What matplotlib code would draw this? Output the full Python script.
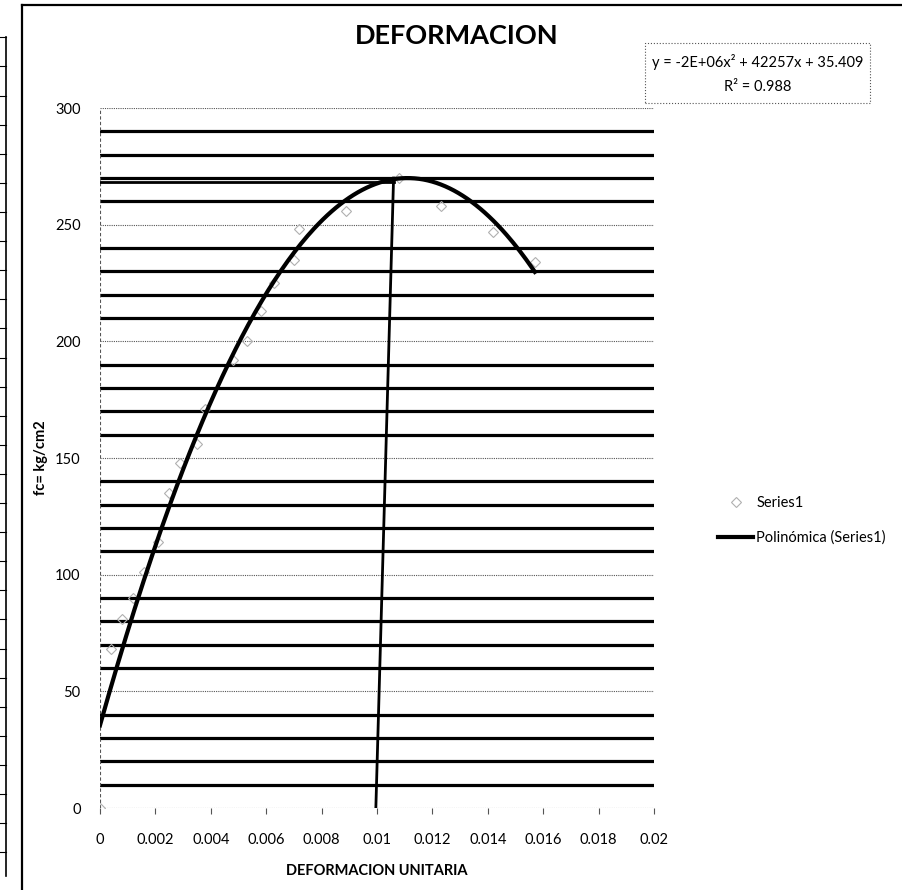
import numpy as np
import matplotlib
matplotlib.use("Agg")
import matplotlib.pyplot as plt
from matplotlib.lines import Line2D
from matplotlib.patches import Rectangle

plt.rcParams['font.family'] = ['Lato', 'DejaVu Sans']

# ensayo: deformacion unitaria vs esfuerzo
deformacion = [0, 0.0004, 0.0008, 0.0012, 0.0016, 0.0021, 0.0025, 0.0029, 0.0035,
               0.0038, 0.0048, 0.0053, 0.0058, 0.0063, 0.0070, 0.0072, 0.0089,
               0.0108, 0.0123, 0.0142, 0.0157]
esfuerzo = [0, 68, 81, 90, 101, 114, 135, 148, 156, 171, 192, 200, 213, 225,
            235, 248, 256, 270, 258, 247, 234]

# linea de tendencia polinomica (grado 2)
coef = [-1.903e6, 42257, 35.409]
ecuacion = "y = -2E+06x² + 42257x + 35.409"
r2_txt = "R² = 0.988"

# marca del punto maximo
pico_x = [0.00996, 0.0106]
pico_y = 268.5

x_ticks = [0, 0.002, 0.004, 0.006, 0.008, 0.01, 0.012, 0.014, 0.016, 0.018, 0.02]
x_labels = ["0", "0.002", "0.004", "0.006", "0.008", "0.01", "0.012", "0.014", "0.016", "0.018", "0.02"]
y_ticks = [0, 50, 100, 150, 200, 250, 300]
y_rayas = [v for v in range(10, 300, 10) if v % 50 != 0]

fig = plt.figure(figsize=(9.03, 8.90), dpi=100)
ax = fig.add_axes([0.1107, 0.0921, 0.6135, 0.7865])

# renglones gruesos y grilla punteada
for v in y_rayas:
    ax.axhline(v, color='black', lw=2.3, zorder=1)
for v in y_ticks:
    ax.axhline(v, color='#555555', lw=0.8, ls=(0, (1, 1)), zorder=1)
ax.axvline(0, color='#555555', lw=0.8, ls=(0, (3, 2)), zorder=1)

ax.plot(deformacion, esfuerzo, ls='none', marker='D', ms=5, mfc='none',
        mec='#b0b0b0', mew=0.8, zorder=3)

xs = np.linspace(0, max(deformacion), 200)
ax.plot(xs, np.polyval(coef, xs), color='black', lw=3, zorder=4)

ax.plot(pico_x, [0, 270], color='black', lw=2, zorder=4)
ax.plot([0, pico_x[1]], [pico_y, pico_y], color='black', lw=2, zorder=4)

ax.set_xlim(0, 0.02)
ax.set_ylim(0, 300)
ax.set_xticks(x_ticks)
ax.set_xticklabels(x_labels)
ax.set_yticks(y_ticks)
for s in ax.spines.values():
    s.set_visible(False)
ax.tick_params(axis='x', length=4, width=0.8, color='#555555', labelsize=10.5, pad=14)
ax.tick_params(axis='y', length=0, labelsize=10.5, pad=14)

ax.set_xlabel("DEFORMACION UNITARIA", fontsize=10.5, fontweight='bold', labelpad=12)
ax.set_ylabel("fc= kg/cm2", fontsize=10.5, fontweight='bold')
ax.yaxis.set_label_coords(-0.094, 0.5)
fig.text(0.506, 0.960, "DEFORMACION", ha='center', va='center', fontsize=19.5, fontweight='bold')

# cuadro de la ecuacion
fig.add_artist(Rectangle((0.714, 0.884), 0.250, 0.068, transform=fig.transFigure,
                         fill=False, ec='#555555', lw=0.8, ls=':'))
fig.text(0.839, 0.930, ecuacion, ha='center', va='center', fontsize=10.5)
fig.text(0.839, 0.902, r2_txt, ha='center', va='center', fontsize=10.5)

# leyenda
h1 = Line2D([], [], ls='none', marker='D', ms=5, mfc='none', mec='#b0b0b0', mew=0.8)
h2 = Line2D([], [], color='black', lw=3)
fig.legend([h1, h2], ["Series1", "Polinómica (Series1)"], loc='center left',
           bbox_to_anchor=(0.781, 0.415), frameon=False, fontsize=10.5,
           handlelength=2.4, handletextpad=0.2, labelspacing=1.4)

# marco del grafico y tabla vecina
fig.add_artist(Line2D([0.0244, 0.0244], [0, 0.994], color='black', lw=1.6))
fig.add_artist(Line2D([0.0244, 1], [0.994, 0.994], color='black', lw=1.6))
fig.add_artist(Line2D([0.0066, 0.0066], [0.016, 0.958], color='black', lw=1.2))
for yy in np.arange(0.958, 0.015, -0.0327):
    fig.add_artist(Line2D([0, 0.0066], [yy, yy], color='black', lw=0.8))

fig.savefig("out.png", dpi=100)
